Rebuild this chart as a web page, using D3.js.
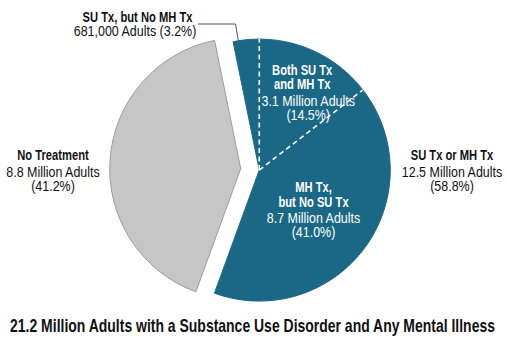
<!DOCTYPE html>
<html>
<head>
<meta charset="utf-8">
<script src="https://cdn.jsdelivr.net/npm/d3@7"></script>
<style>
  body { margin: 0; background: #fff; }
  svg text { font-family: "Liberation Sans", Arial, Helvetica, sans-serif; }
</style>
</head>
<body>
<div id="chart"></div>
<script>
// slices, going clockwise from just left of 12 o'clock
const sliceNames = ["SU Tx, but No MH Tx", "Both SU Tx and MH Tx", "MH Tx, but No SU Tx", "No Treatment"];
const sliceAdults = ["681,000 Adults", "3.1 Million Adults", "8.7 Million Adults", "8.8 Million Adults"];
const slicePercents = [3.2, 14.5, 41.0, 41.2];
const sliceGroup = ["tx", "tx", "tx", "none"];

const groupName = "SU Tx or MH Tx";
const groupAdults = "12.5 Million Adults";
const groupPercent = 58.8;

const title = "21.2 Million Adults with a Substance Use Disorder and Any Mental Illness";

const width = 506, height = 339;
const cx = 250, cy = 169.4, radius = 131;
const explode = 9.3;
const teal = "#1b6886";
const grey = "#c6c6c6";

const svg = d3.select("#chart").append("svg")
  .attr("width", width)
  .attr("height", height);

const start = -slicePercents[0] / 100 * 2 * Math.PI;
const pie = d3.pie().sort(null).value(d => d)
  .startAngle(start).endAngle(start + 2 * Math.PI);
const arcs = pie(slicePercents);

const arc = d3.arc().innerRadius(0).outerRadius(radius);

// angles of each group, for pulling them apart
function groupAngles(g) {
  const a = arcs.filter((d, i) => sliceGroup[i] == g);
  return [a[0].startAngle, a[a.length - 1].endAngle];
}

function offsetFor(g) {
  const [a0, a1] = groupAngles(g);
  const mid = (a0 + a1) / 2;
  return [explode * Math.sin(mid), -explode * Math.cos(mid)];
}

["none", "tx"].forEach(g => {
  const [a0, a1] = groupAngles(g);
  const [ox, oy] = offsetFor(g);
  const gr = svg.append("g").attr("transform", `translate(${cx + ox},${cy + oy})`);

  gr.append("path")
    .attr("d", arc({ startAngle: a0, endAngle: a1 }))
    .attr("fill", g == "tx" ? teal : grey)
    .attr("stroke", g == "tx" ? teal : "#9c9c9c")
    .attr("stroke-width", 1);

  if (g == "tx") {
    // dashed dividers between the treated slices
    arcs.forEach((d, i) => {
      if (i == 0 || sliceGroup[i] != "tx") return;
      const a = d.startAngle;
      gr.append("line")
        .attr("x1", 0).attr("y1", 0)
        .attr("x2", radius * Math.sin(a))
        .attr("y2", -radius * Math.cos(a))
        .attr("stroke", "#fff")
        .attr("stroke-width", 1.6)
        .attr("stroke-dasharray", "5,3.5");
    });
  }
});

// one line of text, squeezed sideways to look like a condensed face
function line(x, y, str, bold, fill, size, sx) {
  return svg.append("text")
    .attr("transform", `translate(${x},${y}) scale(${sx || (bold ? 0.8 : 0.89)},1)`)
    .attr("text-anchor", "middle")
    .attr("font-size", size || 14)
    .attr("font-weight", bold ? "bold" : "normal")
    .attr("fill", fill)
    .text(str);
}

// labels inside the teal slices
const [tox, toy] = offsetFor("tx");
const inner = [
  { i: 1, r: 87, turn: 0.1, dx: 3, dy: 0.5, bold: ["Both SU Tx", "and MH Tx"], shift: 6 },
  { i: 2, r: 69, turn: 0, dx: -1.5, dy: 3.5, bold: ["MH Tx,", "but No SU Tx"], shift: 0 }
];
inner.forEach(o => {
  const d = arcs[o.i];
  const mid = (d.startAngle + d.endAngle) / 2 + o.turn;
  const x = cx + tox + o.r * Math.sin(mid) + o.dx;
  const y = cy + toy - o.r * Math.cos(mid) + o.dy;
  line(x - o.shift, y - 22, o.bold[0], true, "#fff");
  line(x - o.shift, y - 7.5, o.bold[1], true, "#fff");
  line(x, y + 9, sliceAdults[o.i], false, "#fff");
  line(x, y + 23, "(" + slicePercents[o.i].toFixed(1) + "%)", false, "#fff");
});

// outside labels
function outsideLabel(x, y, head, sub, pct) {
  line(x, y, head, true, "#111");
  line(x, y + 17.5, sub, false, "#111");
  line(x, y + 31, "(" + pct.toFixed(1) + "%)", false, "#111");
}
outsideLabel(53, 159.5, sliceNames[3], sliceAdults[3], slicePercents[3]);
outsideLabel(452, 159.5, groupName, groupAdults, groupPercent);

// small slice, with a leader line
line(137.5, 21.5, sliceNames[0], true, "#111");
line(135, 35.5, sliceAdults[0] + " (" + slicePercents[0].toFixed(1) + "%)", false, "#111");

const sm = arcs[0];
const smMid = (sm.startAngle + sm.endAngle) / 2 - 0.06;
const tipX = cx + tox + (radius - 1) * Math.sin(smMid);
const tipY = cy + toy - (radius - 1) * Math.cos(smMid);
svg.append("polyline")
  .attr("points", [[198, 24], [tipX - 3, 24], [tipX, tipY]].map(p => p.join(",")).join(" "))
  .attr("fill", "none")
  .attr("stroke", "#555")
  .attr("stroke-width", 1);

// title, fitted to the width it takes in the original
const titleText = line(252.5, 331.5, title, true, "#111", 18, 1);
const tw = titleText.node().getComputedTextLength();
titleText.attr("transform", `translate(252.5,331.5) scale(${485 / tw},1)`);
</script>
</body>
</html>
